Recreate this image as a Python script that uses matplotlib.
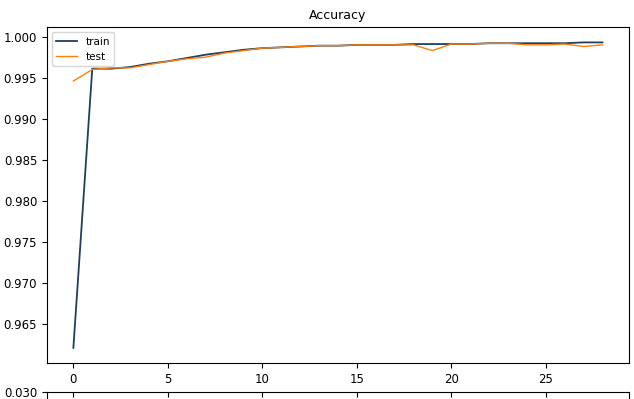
import matplotlib

matplotlib.use("Agg")

import matplotlib.pyplot as plt
from matplotlib.ticker import FormatStrFormatter

# Per-epoch accuracy.
epochs = list(range(29))
train_acc = [
    0.9621, 0.9961, 0.9961, 0.9963, 0.9967, 0.9970, 0.9974, 0.9978, 0.9981,
    0.9984, 0.9986, 0.9987, 0.9988, 0.9989, 0.9989, 0.9990, 0.9990, 0.9990,
    0.9991, 0.9991, 0.9991, 0.9991, 0.9992, 0.9992, 0.9992, 0.9992, 0.9992,
    0.9993, 0.9993,
]
test_acc = [
    0.9946, 0.9960, 0.9962, 0.9962, 0.9966, 0.9970, 0.9973, 0.9975, 0.9980,
    0.9983, 0.9986, 0.9987, 0.9988, 0.9989, 0.9989, 0.9990, 0.9990, 0.9990,
    0.9990, 0.9983, 0.9991, 0.9991, 0.9992, 0.9992, 0.9990, 0.9990, 0.9991,
    0.9988, 0.9990,
]
x_ticks = [0, 5, 10, 15, 20, 25]

fig = plt.figure(figsize=(6.34, 3.99), dpi=100)

# Main accuracy panel.
ax = fig.add_axes([0.074, 0.090, 0.918, 0.842])
ax.plot(epochs, train_acc, label="train", color="#1f3f5f", linewidth=1.3)
ax.plot(epochs, test_acc, label="test", color="#ff7f0e", linewidth=1.0)
ax.set_title("Accuracy", fontsize=9)
ax.set_xticks(x_ticks)
ax.set_yticks([0.965, 0.970, 0.975, 0.980, 0.985, 0.990, 0.995, 1.000])
ax.tick_params(labelsize=8.5)
ax.legend(loc="upper left", fontsize=7.5)

# Top edge of the next panel, cut off by the bottom of the image.
ax2 = fig.add_axes([0.074, -0.5, 0.918, 0.5175])
ax2.set_xlim(ax.get_xlim())
ax2.set_xticks(x_ticks)
ax2.tick_params(axis="x", top=True, bottom=False, direction="in",
                labeltop=False, labelbottom=False)
ax2.set_ylim(0.0, 0.030)
ax2.set_yticks([0.030])
ax2.yaxis.set_major_formatter(FormatStrFormatter("%.3f"))
ax2.tick_params(axis="y", labelsize=8.5)

fig.savefig("out.png", dpi=100)
